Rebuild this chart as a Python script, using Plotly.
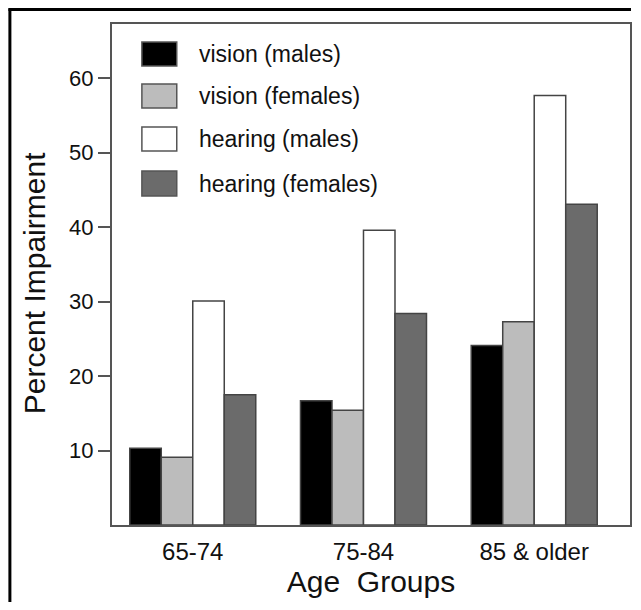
import plotly.graph_objects as go

categories = ["65-74", "75-84", "85 & older"]
series_names = ["vision (males)", "vision (females)", "hearing (males)", "hearing (females)"]
vision_males = [10.3, 16.7, 24.1]
vision_females = [9.1, 15.4, 27.3]
hearing_males = [30.1, 39.6, 57.7]
hearing_females = [17.5, 28.4, 43.1]
y_ticks = [10, 20, 30, 40, 50, 60]

series_values = [vision_males, vision_females, hearing_males, hearing_females]
colors = ["#000000", "#bcbcbc", "#ffffff", "#6b6b6b"]

# page has an 8px body margin; work in figure coordinates
OFF = 8
W, H = 625, 594
L, R, T, B = 112 - OFF, 632 - OFF, 24 - OFF, 525 - OFF

fig = go.Figure()
for name, vals, col in zip(series_names, series_values, colors):
    fig.add_trace(go.Bar(
        x=categories, y=vals, name=name,
        marker=dict(color=col, line=dict(color="#444444", width=1.5)),
        showlegend=False,
    ))

font_family = "Liberation Sans, Arial, Helvetica, sans-serif"

def px_x(x):
    return (x - OFF - L) / (R - L)

def px_y(y):
    return (B - (y - OFF)) / (B - T)

shapes = []
annotations = []
# outer border lines (left and top)
shapes.append(dict(type="line", xref="paper", yref="paper",
                   x0=px_x(OFF + 1.5), x1=px_x(OFF + 1.5),
                   y0=px_y(OFF + H), y1=px_y(OFF + 0.5),
                   line=dict(color="#000000", width=3)))
shapes.append(dict(type="line", xref="paper", yref="paper",
                   x0=px_x(OFF), x1=px_x(OFF + W),
                   y0=px_y(OFF + 1.5), y1=px_y(OFF + 1.5),
                   line=dict(color="#000000", width=3)))

# custom legend
rows = [(42, 66), (84, 108), (127, 151), (171, 196)]
for (y0, y1), name, col in zip(rows, series_names, colors):
    shapes.append(dict(type="rect", xref="paper", yref="paper",
                       x0=px_x(142), x1=px_x(177), y0=px_y(y1), y1=px_y(y0),
                       fillcolor=col, line=dict(color="#555555", width=1.5)))
    annotations.append(dict(xref="paper", yref="paper", x=px_x(197), y=px_y((y0 + y1) / 2),
                            text=name, showarrow=False, xanchor="left", yanchor="middle",
                            font=dict(size=23, color="#111111", family=font_family)))

# y axis title
annotations.append(dict(xref="paper", yref="paper", x=px_x(34), y=px_y(283),
                        text="Percent Impairment", showarrow=False, textangle=-90,
                        xanchor="center", yanchor="middle",
                        font=dict(size=30, color="#111111", family=font_family)))

fig.update_layout(
    width=W, height=H,
    margin=dict(l=L, r=W - R, t=T, b=H - B),
    paper_bgcolor="white", plot_bgcolor="white",
    barmode="group", bargap=0.262, bargroupgap=0,
    font=dict(family=font_family, color="#111111"),
    shapes=shapes, annotations=annotations,
    xaxis=dict(
        range=[-0.473, 2.561], showgrid=False, zeroline=False,
        showline=True, mirror=True, linecolor="#555555", linewidth=2,
        ticks="outside", ticklen=4, tickcolor="rgba(0,0,0,0)",
        tickfont=dict(size=24, color="#111111"),
        title=dict(text="Age  Groups", font=dict(size=30, color="#111111"), standoff=6),
    ),
    yaxis=dict(
        range=[0, 67.3], tickvals=y_ticks, showgrid=False, zeroline=False,
        showline=True, mirror=True, linecolor="#555555", linewidth=2,
        ticks="outside", ticklen=12, tickcolor="#555555", tickwidth=1.5,
        tickfont=dict(size=22, color="#111111"),
    ),
)

fig.write_html("out.html")
